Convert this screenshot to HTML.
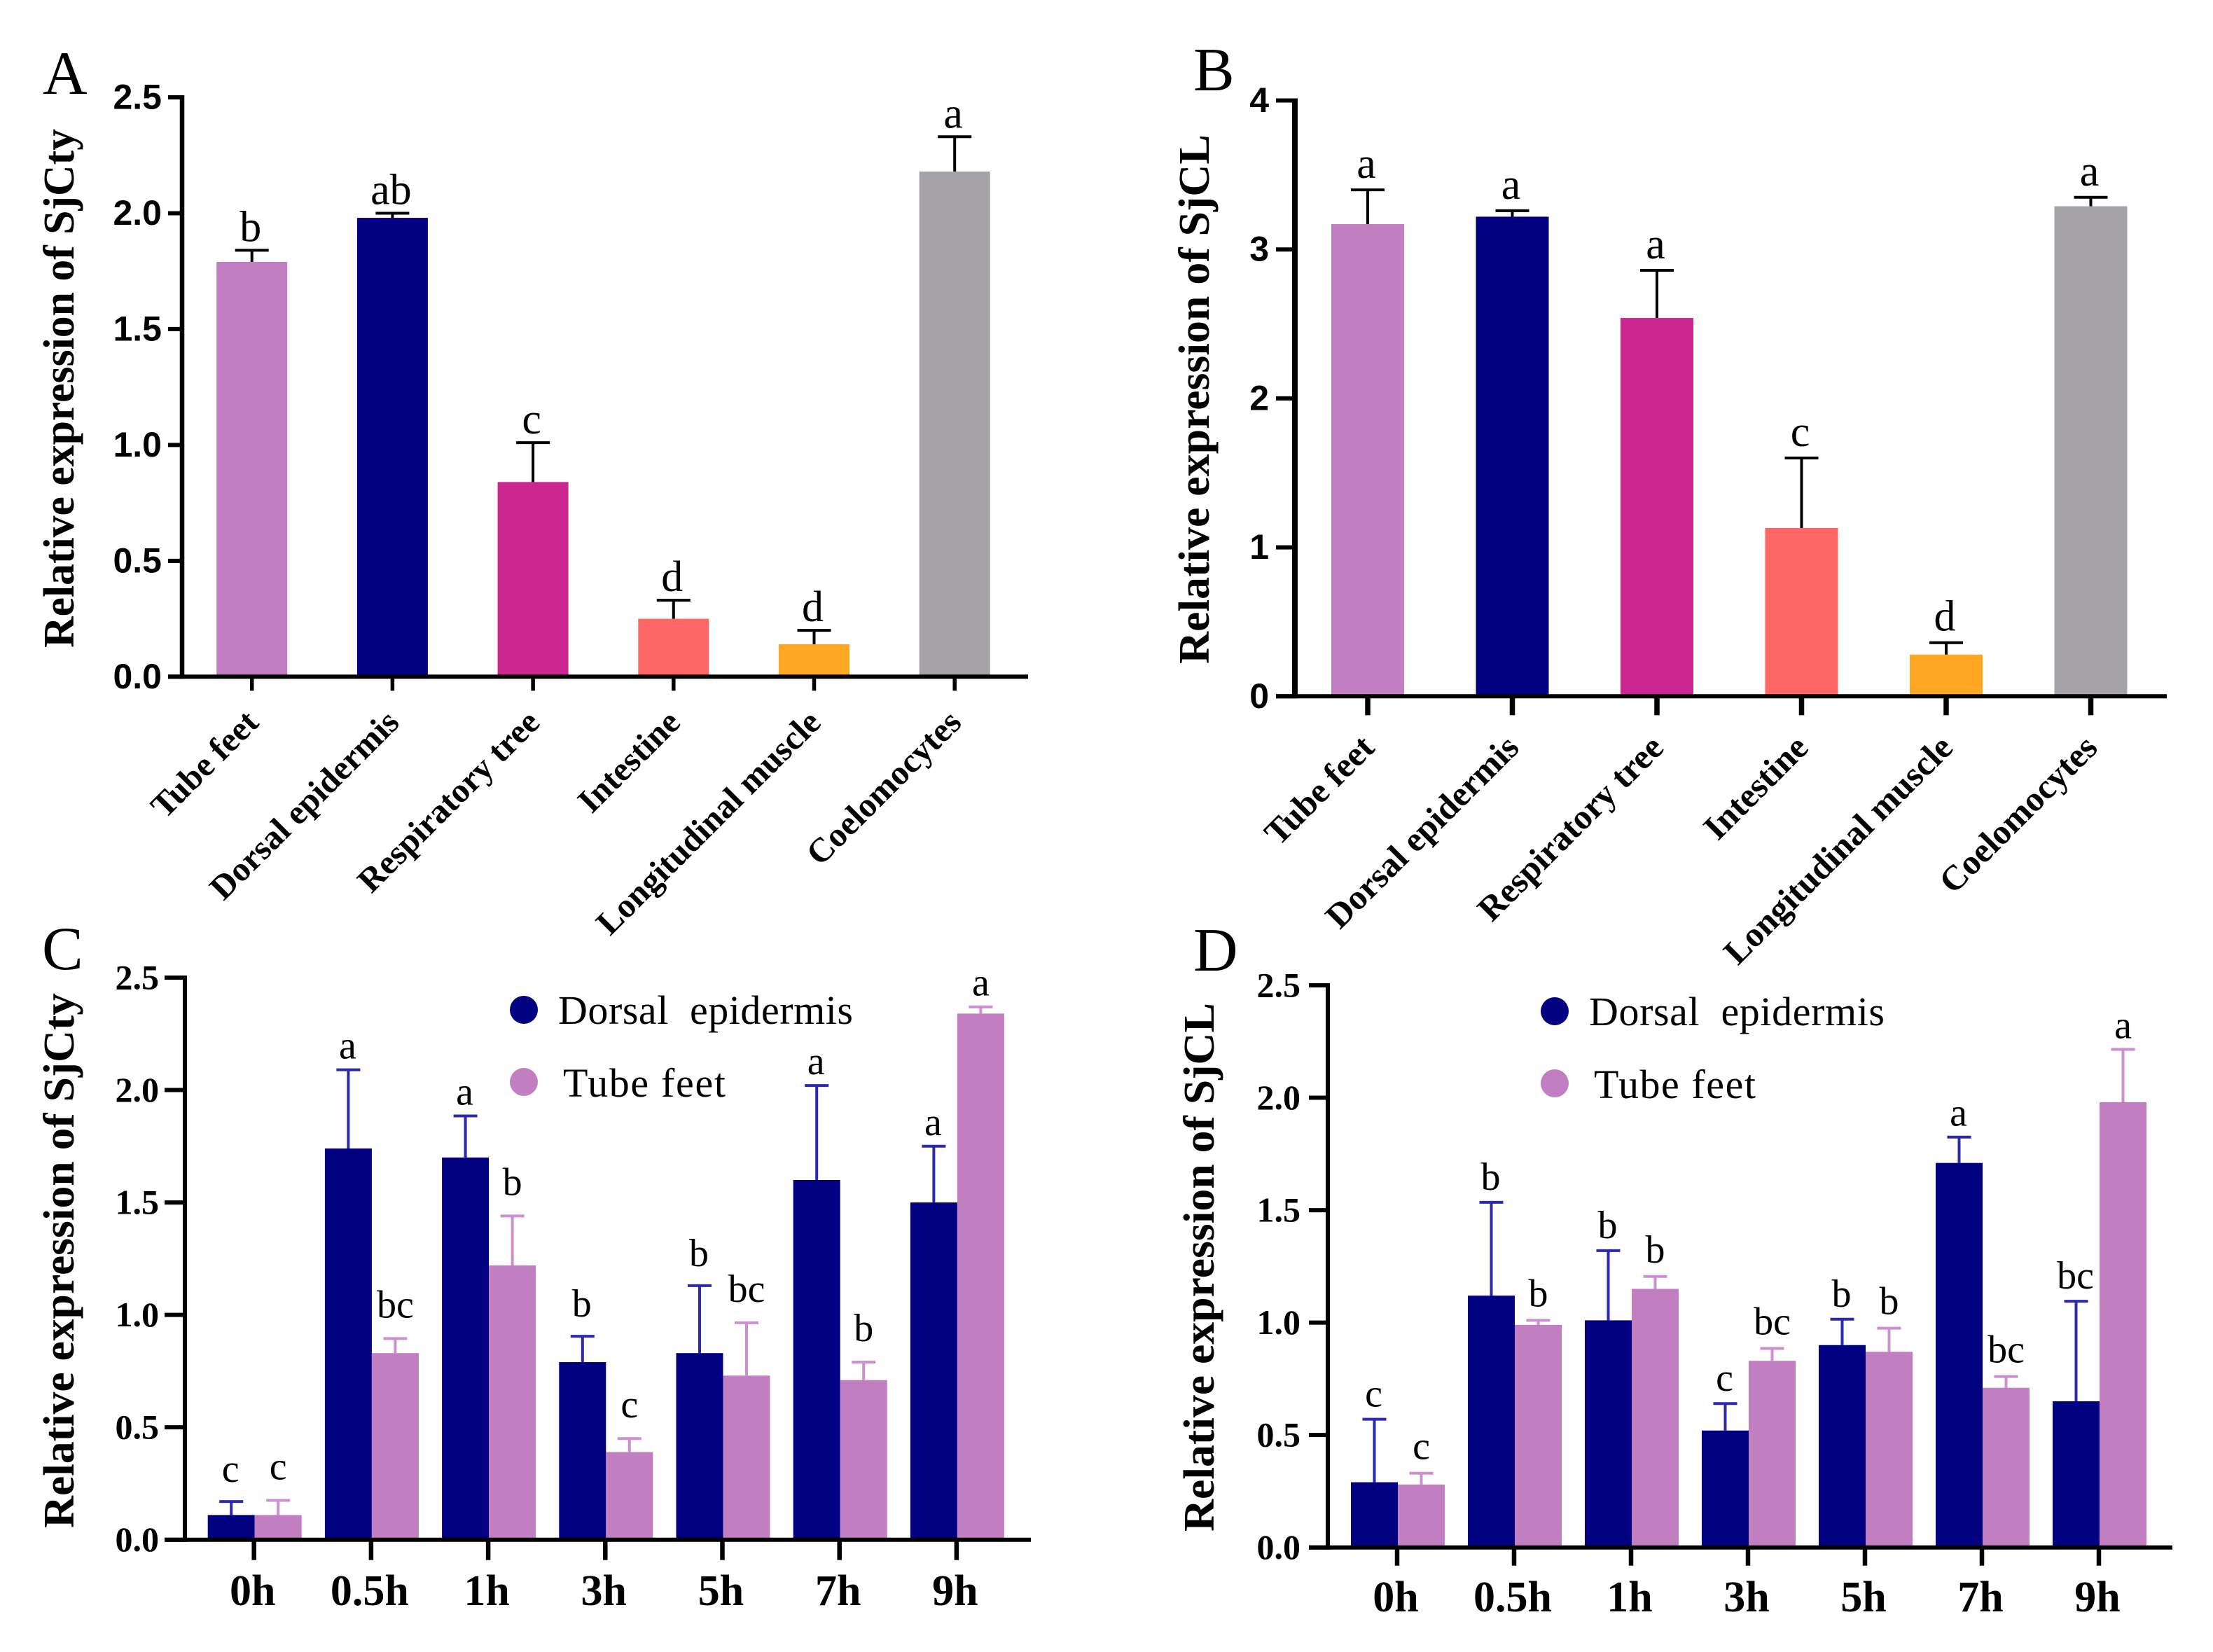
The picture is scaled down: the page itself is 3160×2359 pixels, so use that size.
<!DOCTYPE html>
<html lang="en">
<head>
<meta charset="utf-8">
<title>Relative expression of SjCty and SjCL</title>
<style>
html,body{margin:0;padding:0;background:#fff;width:3160px;height:2359px;overflow:hidden}
svg{display:block}
text{fill:#000;font-family:"Liberation Serif",serif}
.panel{font-size:88px}
.ytitle{font-size:62px;font-weight:bold}
.legend{font-size:58px}
</style>
</head>
<body>
<svg id="figure" xmlns="http://www.w3.org/2000/svg" width="3160" height="2359" viewBox="0 0 3160 2359">
  <rect x="0" y="0" width="3160" height="2359" fill="#fff"/>
  <text class="panel" x="61" y="134">A</text>
  <text class="panel" x="1704" y="129">B</text>
  <text class="panel" x="60" y="1384">C</text>
  <text class="panel" x="1704" y="1386">D</text>
  <text class="ytitle" transform="translate(105 925) rotate(-90)" textLength="741" lengthAdjust="spacingAndGlyphs">Relative expression of SjCty</text>
  <text class="ytitle" transform="translate(1726 948) rotate(-90)" textLength="756" lengthAdjust="spacingAndGlyphs">Relative expression of SjCL</text>
  <text class="ytitle" transform="translate(105 2182) rotate(-90)" textLength="764" lengthAdjust="spacingAndGlyphs">Relative expression of SjCty</text>
  <text class="ytitle" transform="translate(1733 2187) rotate(-90)" textLength="755" lengthAdjust="spacingAndGlyphs">Relative expression of SjCL</text>
  <g>
    <circle cx="748" cy="1442" r="20" fill="#000080"/>
    <text class="legend" x="797" y="1462" textLength="421" lengthAdjust="spacing" xml:space="preserve">Dorsal  epidermis</text>
    <circle cx="748" cy="1545" r="20" fill="#C17FC1"/>
    <text class="legend" x="804" y="1566" textLength="232" lengthAdjust="spacing">Tube feet</text>
  </g>
  <g>
    <circle cx="2220" cy="1444" r="20" fill="#000080"/>
    <text class="legend" x="2269" y="1464" textLength="422" lengthAdjust="spacing" xml:space="preserve">Dorsal  epidermis</text>
    <circle cx="2220" cy="1547" r="20" fill="#C17FC1"/>
    <text class="legend" x="2276" y="1568" textLength="231" lengthAdjust="spacing">Tube feet</text>
  </g>
</svg>
<script>
// ---- Data ----
const tissueCategories = ['Tube feet','Dorsal epidermis','Respiratory tree','Intestine','Longitudinal muscle','Coelomocytes'];
const timeCategories = ['0h','0.5h','1h','3h','5h','7h','9h'];
const tissueColors = ['#C17FC1','#000080','#CC2690','#FF6666','#FFA722','#A5A3A8'];

const panelATicks = ['0.0','0.5','1.0','1.5','2.0','2.5'];
const panelAValues = [1.79,1.98,0.84,0.25,0.14,2.18];
const panelAUpper = [1.84,2.00,1.01,0.33,0.20,2.33];
const panelALetters = ['b','ab','c','d','d','a'];

const panelBTicks = ['0','1','2','3','4'];
const panelBValues = [3.17,3.22,2.54,1.13,0.28,3.29];
const panelBUpper = [3.40,3.26,2.86,1.60,0.36,3.35];
const panelBLetters = ['a','a','a','c','d','a'];

const panelCTicks = ['0.0','0.5','1.0','1.5','2.0','2.5'];
const panelCDorsal = [0.11,1.74,1.70,0.79,0.83,1.60,1.50];
const panelCDorsalUpper = [0.17,2.09,1.885,0.905,1.13,2.02,1.75];
const panelCDorsalLetters = ['c','a','a','b','b','a','a'];
const panelCTube = [0.11,0.83,1.22,0.39,0.73,0.71,2.34];
const panelCTubeUpper = [0.175,0.895,1.44,0.45,0.965,0.79,2.37];
const panelCTubeLetters = ['c','bc','b','c','bc','b','a'];

const panelDTicks = ['0.0','0.5','1.0','1.5','2.0','2.5'];
const panelDDorsal = [0.29,1.12,1.01,0.52,0.90,1.71,0.65];
const panelDDorsalUpper = [0.57,1.535,1.32,0.64,1.015,1.825,1.095];
const panelDDorsalLetters = ['c','b','b','c','b','a','bc'];
const panelDTube = [0.28,0.99,1.15,0.83,0.87,0.71,1.98];
const panelDTubeUpper = [0.33,1.01,1.205,0.885,0.975,0.76,2.215];
const panelDTubeLetters = ['c','b','b','bc','b','bc','a'];

// ---- Drawing helpers ----
const NS = 'http://www.w3.org/2000/svg';
const svg = document.getElementById('figure');
function make(parent, tag, props, content) {
  const n = document.createElementNS(NS, tag);
  for (const k in props) n.setAttribute(k, props[k]);
  if (content !== undefined) n.textContent = content;
  parent.appendChild(n);
  return n;
}
function slug(s) { return s.toLowerCase().replace(/[^a-z0-9]+/g, '-'); }

function drawAxes(g, L, ticks, sans) {
  const y = L.yScale;
  const yAxis = make(g, 'line', {x1:L.axisX, x2:L.axisX, y1:y(+ticks[ticks.length-1])-3, y2:L.y0+3, stroke:'#000', 'stroke-width':L.yAxisWidth});
  
  
  const xAxis = make(g, 'line', {x1:L.axisStart, x2:L.axisEnd, y1:L.y0, y2:L.y0, stroke:'#000', 'stroke-width':6});
  
  
  ticks.forEach(function (label) {
    const v = +label;
    const tick = make(g, 'line', {x1:L.axisStart, x2:L.axisX, y1:y(v), y2:y(v), stroke:'#000', 'stroke-width':6});
    
    
    const t = make(g, 'text', {x:L.axisStart-L.tickGap, y:y(v)+16.5, 'text-anchor':'end', 'font-size':50, 'font-weight':'bold',
      style: sans ? 'font-family:"Liberation Sans",sans-serif' : ''}, label);
    
    
  });
}

function drawErrorBar(g, x, top, base, capHalf, color, name) {
  const e = make(g, 'g', {});
  
  
  make(e, 'line', {x1:x, x2:x, y1:base, y2:top, stroke:color, 'stroke-width':4});
  make(e, 'line', {x1:x-capHalf, x2:x+capHalf, y1:top, y2:top, stroke:color, 'stroke-width':4});
}

function drawTissuePanel(id, L, ticks, values, upper, letters) {
  const g = make(svg, 'g', {});
  
  
  const y = L.yScale;
  tissueCategories.forEach(function (cat, i) {
    const cx = L.first + i * L.step;
    const bar = make(g, 'rect', {x:cx-L.barW/2, y:y(values[i]), width:L.barW, height:L.y0-y(values[i]), fill:tissueColors[i]});
    
    
    drawErrorBar(g, cx, y(upper[i]), y(values[i]), 24, '#000', 'error-bar-' + slug(cat));
    const sig = make(g, 'text', {x:cx-2, y:y(upper[i])-L.letterGap, 'text-anchor':'middle', 'font-size':62}, letters[i]);
    
    
    const tick = make(g, 'line', {x1:cx, x2:cx, y1:L.y0, y2:L.y0+L.xTickLen, stroke:'#000', 'stroke-width':L.xTickWidth});
    
    
    const lab = make(g, 'text', {transform:'translate(' + (cx+L.labelDx) + ' ' + (L.y0+L.labelDy) + ') rotate(-45)',
      'text-anchor':'end', 'font-size':L.labelFont, 'font-weight':'bold'}, cat);
    
    
  });
  drawAxes(g, L, ticks, true);
}

function drawTimePanel(id, L, ticks, dorsal, dorsalUp, dorsalLet, tube, tubeUp, tubeLet) {
  const g = make(svg, 'g', {});
  
  
  const y = L.yScale;
  const DARK = '#000080', DARK_ERR = '#2A2AAA', LIGHT = '#C17FC1', LIGHT_ERR = '#CC8FD0';
  function gap(letter, seriesGap) { return letter === 'a' ? L.gapA : seriesGap; }
  timeCategories.forEach(function (cat, i) {
    const cx = L.first + i * L.step;
    const xd = cx - L.barW/2, xt = cx + L.barW/2;
    drawErrorBar(g, xd, y(dorsalUp[i]), y(dorsal[i]), 17, DARK_ERR, 'error-bar-dorsal-' + slug(cat));
    drawErrorBar(g, xt, y(tubeUp[i]), y(tube[i]), 17, LIGHT_ERR, 'error-bar-tube-' + slug(cat));
    const bd = make(g, 'rect', {x:cx-L.barW, y:y(dorsal[i]), width:L.barW, height:L.y0-y(dorsal[i]), fill:DARK});
    
    
    const bt = make(g, 'rect', {x:cx, y:y(tube[i]), width:L.barW, height:L.y0-y(tube[i]), fill:LIGHT});
    
    
    const sd = make(g, 'text', {x:xd-1, y:y(dorsalUp[i])-gap(dorsalLet[i], L.gapDorsal), 'text-anchor':'middle', 'font-size':56}, dorsalLet[i]);
    
    
    const st = make(g, 'text', {x:xt, y:y(tubeUp[i])-gap(tubeLet[i], L.gapTube), 'text-anchor':'middle', 'font-size':56}, tubeLet[i]);
    
    
    const tick = make(g, 'line', {x1:cx-1, x2:cx-1, y1:L.y0, y2:L.y0+L.xTickLen, stroke:'#000', 'stroke-width':6.5});
    
    
    const lab = make(g, 'text', {x:cx-3, y:L.labelY, 'text-anchor':'middle', 'font-size':62, 'font-weight':'bold'}, cat);
    
    
  });
  drawAxes(g, L, ticks, false);
}

function linearY(y0, yTop, max) {
  return function (v) { return y0 - (v / max) * (y0 - yTop); };
}

drawTissuePanel('a',
  {axisX:260, yAxisWidth:6.5, axisStart:240, axisEnd:1468, y0:966.3, first:359.7, step:200.7, barW:101, yScale:linearY(966.3,139,2.5), tickGap:9, letterGap:13, xTickLen:20, xTickWidth:5.5, labelDx:12, labelDy:68, labelFont:49},
  panelATicks, panelAValues, panelAUpper, panelALetters);

drawTissuePanel('b',
  {axisX:1849, yAxisWidth:8, axisStart:1822, axisEnd:3094, y0:994.3, first:1953, step:206.5, barW:104, yScale:linearY(994.3,143.5,4), tickGap:10, letterGap:17, xTickLen:27, xTickWidth:7.5, labelDx:12, labelDy:76, labelFont:50},
  panelBTicks, panelBValues, panelBUpper, panelBLetters);

drawTimePanel('c',
  {axisX:264, yAxisWidth:6, axisStart:235, axisEnd:1472, y0:2198.7, first:363.7, step:167.2, barW:67, yScale:linearY(2198.7,1396,2.5), tickGap:8, gapA:16, gapDorsal:28, gapTube:30, xTickLen:29, labelY:2292},
  panelCTicks, panelCDorsal, panelCDorsalUpper, panelCDorsalLetters, panelCTube, panelCTubeUpper, panelCTubeLetters);

drawTimePanel('d',
  {axisX:1896, yAxisWidth:6, axisStart:1869, axisEnd:3102, y0:2209.7, first:1996, step:167, barW:67, yScale:linearY(2209.7,1407,2.5), tickGap:12, gapA:16, gapDorsal:18, gapTube:20, xTickLen:26, labelY:2301},
  panelDTicks, panelDDorsal, panelDDorsalUpper, panelDDorsalLetters, panelDTube, panelDTubeUpper, panelDTubeLetters);
</script>
</body>
</html>
